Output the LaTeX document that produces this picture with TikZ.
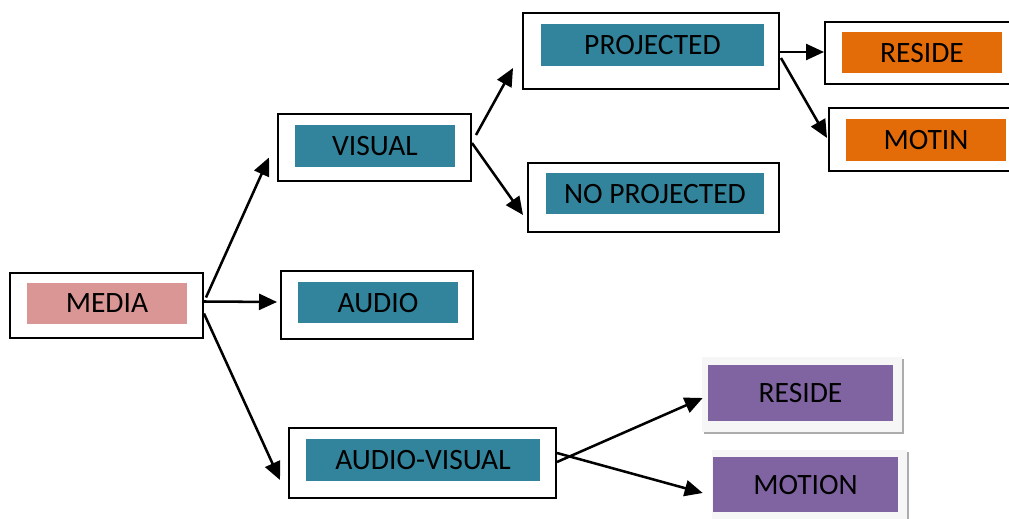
\documentclass[tikz,border=0pt]{standalone}
\usepackage{fontspec}
\setmainfont{Carlito}
\usepackage{tikz}
\usetikzlibrary{arrows.meta, shadows}

\definecolor{teal}{HTML}{31849B}
\definecolor{rose}{HTML}{D99694}
\definecolor{tangerine}{HTML}{E36C09}
\definecolor{lavender}{HTML}{8064A2}

\begin{document}
\begin{tikzpicture}[x=0.025cm, y=-0.025cm,
        frame/.style 2 args={draw=black, line width=1.4pt, fill=white, inner sep=0pt,
            minimum width=#1*0.025cm, minimum height=#2*0.025cm},
        panel/.style 2 args={fill=gray!7, inner sep=0pt,
            drop shadow={shadow xshift=0.06cm, shadow yshift=-0.06cm, fill=gray!65, opacity=1},
            minimum width=#1*0.025cm, minimum height=#2*0.025cm},
        tag/.style n args={3}{fill=#1, inner sep=0pt, text=black,
            font=\fontsize{21}{24}\selectfont, text depth=0pt,
            minimum width=#2*0.025cm, minimum height=#3*0.025cm},
        arr/.style={line width=1.8pt, -{Triangle[length=0.45cm, width=0.4cm]}}]

        \useasboundingbox (0,0) rectangle (1009,519);
        \clip (0,0) rectangle (1009,519);

        % first level
        \node[frame={193}{65}] (media) at (106.5,305.5) {};
        \node[tag={rose}{160}{41}] (media-lbl) at (107,303.5) {MEDIA};

        % second level
        \node[frame={193}{67}] (visual) at (374.5,147.5) {};
        \node[tag={teal}{160}{42}] (visual-lbl) at (375,146) {VISUAL};

        \node[frame={192}{68}] (audio) at (377,305) {};
        \node[tag={teal}{160}{41}] (audio-lbl) at (378,302.5) {AUDIO};

        \node[frame={267}{70}] (av) at (422.5,463) {};
        \node[tag={teal}{234}{42}] (av-lbl) at (423,460) {AUDIO-VISUAL};

        % visual branch
        \node[frame={256}{76}] (proj) at (651,51) {};
        \node[tag={teal}{223}{42}] (proj-lbl) at (652.5,45) {PROJECTED};

        \node[frame={251}{69}] (noproj) at (653.5,197.5) {};
        \node[tag={teal}{218}{41}] (noproj-lbl) at (655,193.5) {NO PROJECTED};

        \node[frame={197}{62}] (oreside) at (923.5,53) {};
        \node[tag={tangerine}{160}{41}] (oreside-lbl) at (922,52.5) {RESIDE};

        \node[frame={197}{63}] (omotin) at (927.5,139.5) {};
        \node[tag={tangerine}{160}{42}] (omotin-lbl) at (926,140) {MOTIN};

        % audio-visual branch
        \node[panel={200}{75}] (preside) at (802,394.5) {};
        \node[tag={lavender}{185}{56}] (preside-lbl) at (800.5,393) {RESIDE};

        \node[panel={195}{77}] (pmotion) at (809.5,488.5) {};
        \node[tag={lavender}{185}{55}] (pmotion-lbl) at (805.5,484.5) {MOTION};

        % arrows
        \draw[arr] ([shift={(2,-8)}]media.east) -- ([shift={(-8,10)}]visual.west);
        \draw[arr] ([shift={(0,-4)}]media.east) -- ([shift={(-3,-3)}]audio.west);
        \draw[arr] ([shift={(0,8)}]media.east) -- ([shift={(-8,17)}]av.west);

        \draw[arr] ([shift={(4,-12.5)}]visual.east) -- ([shift={(-9,17)}]proj.west);
        \draw[arr] ([shift={(0,-4.5)}]visual.east) -- ([shift={(-4,17.5)}]noproj.west);

        \draw[arr] ([shift={(0,1)}]proj.east) -- ([shift={(0,-1)}]oreside.west);
        \draw[arr] ([shift={(1,7)}]proj.east) -- ([shift={(-1,-1.5)}]omotin.west);

        \draw[arr] ([shift={(0,-1)}]av.east) -- ([shift={(1,3.5)}]preside.west);
        \draw[arr] ([shift={(0,-10)}]av.east) -- ([shift={(-9,4.5)}]pmotion.west);
    \end{tikzpicture}
\end{document}
